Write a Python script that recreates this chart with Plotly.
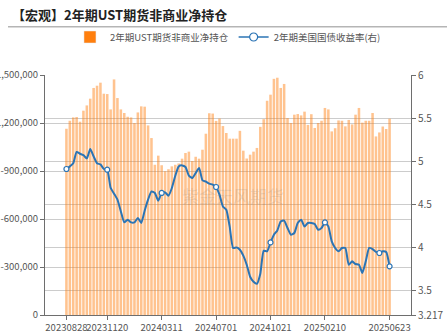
import plotly.graph_objects as go
import pandas as pd

# ---- data ----
dates = pd.date_range("2023-08-28", periods=96, freq="7D").strftime("%Y%m%d").tolist()

net_position = [
    -1164000, -1214000, -1235000, -1237500, -1208000, -1277000, -1310000, -1352000,
    -1419000, -1433000, -1452000, -1383000, -1381000, -1285000, -1472500, -1356000,
    -1285000, -1262500, -1239000, -1235000, -1200000, -1266000, -1304000, -1302000,
    -1185000, -1106000, -939000, -996000, -936000, -899000, -911000, -929000,
    -939000, -947000, -977000, -1012500, -1021000, -962500, -989000, -977000,
    -1033000, -1133000, -1261000, -1259000, -1213000, -1228000, -1181000, -1137500,
    -1102000, -1102000, -1102000, -1151000, -1027000, -978000, -1002000, -1021000,
    -1044000, -1176000, -1224000, -1339000, -1377000, -1476000, -1483000, -1419000,
    -1444000, -1231000, -1200000, -1252000, -1256000, -1247500, -1271000, -1188000,
    -1255000, -1169000, -1200000, -1214000, -1294000, -1285000, -1147500, -1167500,
    -1216000, -1214000, -1179000, -1219000, -1191000, -1252000, -1294000, -1202000,
    -1214000, -1214000, -1262500, -1116000, -1141000, -1178000, -1162500, -1227000,
]

yield_2y = [
    4.910, 4.940, 4.977, 5.108, 5.087, 5.070, 5.033, 5.142,
    5.056, 4.977, 4.963, 4.910, 4.902, 4.690, 4.624, 4.554,
    4.418, 4.291, 4.322, 4.291, 4.291, 4.342, 4.284, 4.426,
    4.554, 4.650, 4.632, 4.542, 4.632, 4.639, 4.600, 4.690,
    4.832, 4.940, 4.952, 4.933, 4.832, 4.806, 4.864, 4.922,
    4.778, 4.763, 4.740, 4.728, 4.701, 4.612, 4.476, 4.438,
    4.241, 3.994, 4.001, 3.974, 3.905, 3.800, 3.661, 3.603,
    3.580, 3.696, 3.963, 3.955, 4.059, 4.148, 4.198, 4.302,
    4.311, 4.226, 4.148, 4.168, 4.284, 4.322, 4.244, 4.284,
    4.284, 4.272, 4.206, 4.226, 4.291, 4.244, 4.070, 3.994,
    3.955, 3.994, 3.994, 3.800, 3.839, 3.808, 3.800, 3.704,
    3.839, 3.994, 3.982, 3.948, 3.936, 3.955, 3.948, 3.781,
]

x_tick_labels = ["20230828", "20231120", "20240311", "20240701",
                 "20241021", "20250210", "20250623"]
symbol_dates = ["20230828", "20231120", "20240311", "20240701",
                "20241021", "20250210", "20250602", "20250623"]

left_tickvals = [0, -300000, -600000, -900000, -1200000, -1500000]
left_ticktext = ["0", "-300,000", "-600,000", "-900,000", "-1,200,000", "-1,500,000"]
right_tickvals = [3.217, 3.5, 4, 4.5, 5, 5.5, 6]
right_ticktext = ["3.217", "3.5", "4", "4.5", "5", "5.5", "6"]

bar_name = "2年期UST期货非商业净持仓"
line_name = "2年期美国国债收益率(右)"
title_text = "【宏观】2年期UST期货非商业净持仓"

# ---- style ----
FONT = "Noto Sans CJK SC, Noto Sans, sans-serif"
ORANGE_SOLID = "#FF7F0E"
ORANGE_BAR = "rgba(255,130,20,0.48)"
BLUE = "#2B74B5"
GRID = "#cccccc"
AXIS = "#6e6e6e"
TXT = "#555555"

sym_idx = [dates.index(d) for d in symbol_dates]

fig = go.Figure()

# legend-only items
fig.add_trace(go.Bar(x=[None], y=[None], name=bar_name, marker_color=ORANGE_SOLID,
                     showlegend=True, hoverinfo="skip"))
fig.add_trace(go.Scatter(x=[None], y=[None], name=line_name, mode="lines+markers",
                         line=dict(color=BLUE, width=1.5),
                         marker=dict(symbol="circle", size=8, color="white",
                                     line=dict(color=BLUE, width=1.2)),
                         yaxis="y2", showlegend=True, hoverinfo="skip"))

fig.add_trace(go.Bar(x=dates, y=net_position, name=bar_name, marker_color=ORANGE_BAR,
                     marker_line_width=0, showlegend=False))
fig.add_trace(go.Scatter(x=dates, y=yield_2y, name=line_name, mode="lines",
                         line=dict(color=BLUE, width=2, shape="spline", smoothing=0.5),
                         yaxis="y2", showlegend=False))
fig.add_trace(go.Scatter(x=[dates[i] for i in sym_idx], y=[yield_2y[i] for i in sym_idx],
                         mode="markers", yaxis="y2", showlegend=False,
                         marker=dict(symbol="circle", size=5, color="white",
                                     line=dict(color=BLUE, width=1.2))))

fig.update_layout(
    width=447, height=335,
    margin=dict(l=45, r=36, t=75, b=20, autoexpand=False),
    paper_bgcolor="white", plot_bgcolor="white",
    font=dict(family=FONT, size=10, color=TXT),
    bargap=0.25,
    title=dict(text="<b>" + title_text + "</b>", x=12 / 447, xref="container",
               xanchor="left", y=1 - 15 / 335, yref="container", yanchor="middle",
               font=dict(family=FONT, size=13, color="#222222")),
    legend=dict(orientation="h", x=0.51, xref="container", xanchor="center",
                y=1 - 37 / 335, yref="container", yanchor="middle",
                font=dict(size=9.5, color=TXT), itemwidth=30,
                tracegroupgap=0, bgcolor="rgba(0,0,0,0)"),
    xaxis=dict(type="category", tickmode="array", tickvals=x_tick_labels,
               ticktext=x_tick_labels, showgrid=False, showline=True,
               linecolor=AXIS, linewidth=1, ticks="outside", ticklen=4,
               tickcolor=AXIS, tickfont=dict(size=9.5, color=TXT),
               tickangle=0, automargin=False),
    yaxis=dict(range=[0, -1500000], tickmode="array", tickvals=left_tickvals,
               ticktext=left_ticktext, showgrid=True, gridcolor=GRID, gridwidth=1,
               showline=True, linecolor=AXIS, linewidth=1, ticks="outside",
               ticklen=4, tickcolor=AXIS, tickfont=dict(size=9.5, color=TXT),
               zeroline=False, automargin=False),
    yaxis2=dict(overlaying="y", side="right", range=[3.217, 6], tickmode="array",
                tickvals=right_tickvals, ticktext=right_ticktext, showgrid=True,
                gridcolor=GRID, gridwidth=1, showline=True, linecolor=AXIS,
                linewidth=1, ticks="outside", ticklen=4, tickcolor=AXIS,
                tickfont=dict(size=10, color=TXT), zeroline=False, automargin=False),
)

# header separator line
fig.add_shape(type="line", xref="paper", yref="paper",
              x0=(8 - 45) / 366, x1=(447 - 45) / 366,
              y0=(315 - 26.7) / 240, y1=(315 - 26.7) / 240,
              line=dict(color="#b5b5b5", width=1.5))

# watermark
fig.add_annotation(text="紫金天风期货", xref="paper", yref="paper",
                   x=(233 - 45) / 366, y=(315 - 195) / 240, showarrow=False,
                   font=dict(family=FONT, size=17, color="rgba(120,120,120,0.18)"))

fig.write_html("out.html")
